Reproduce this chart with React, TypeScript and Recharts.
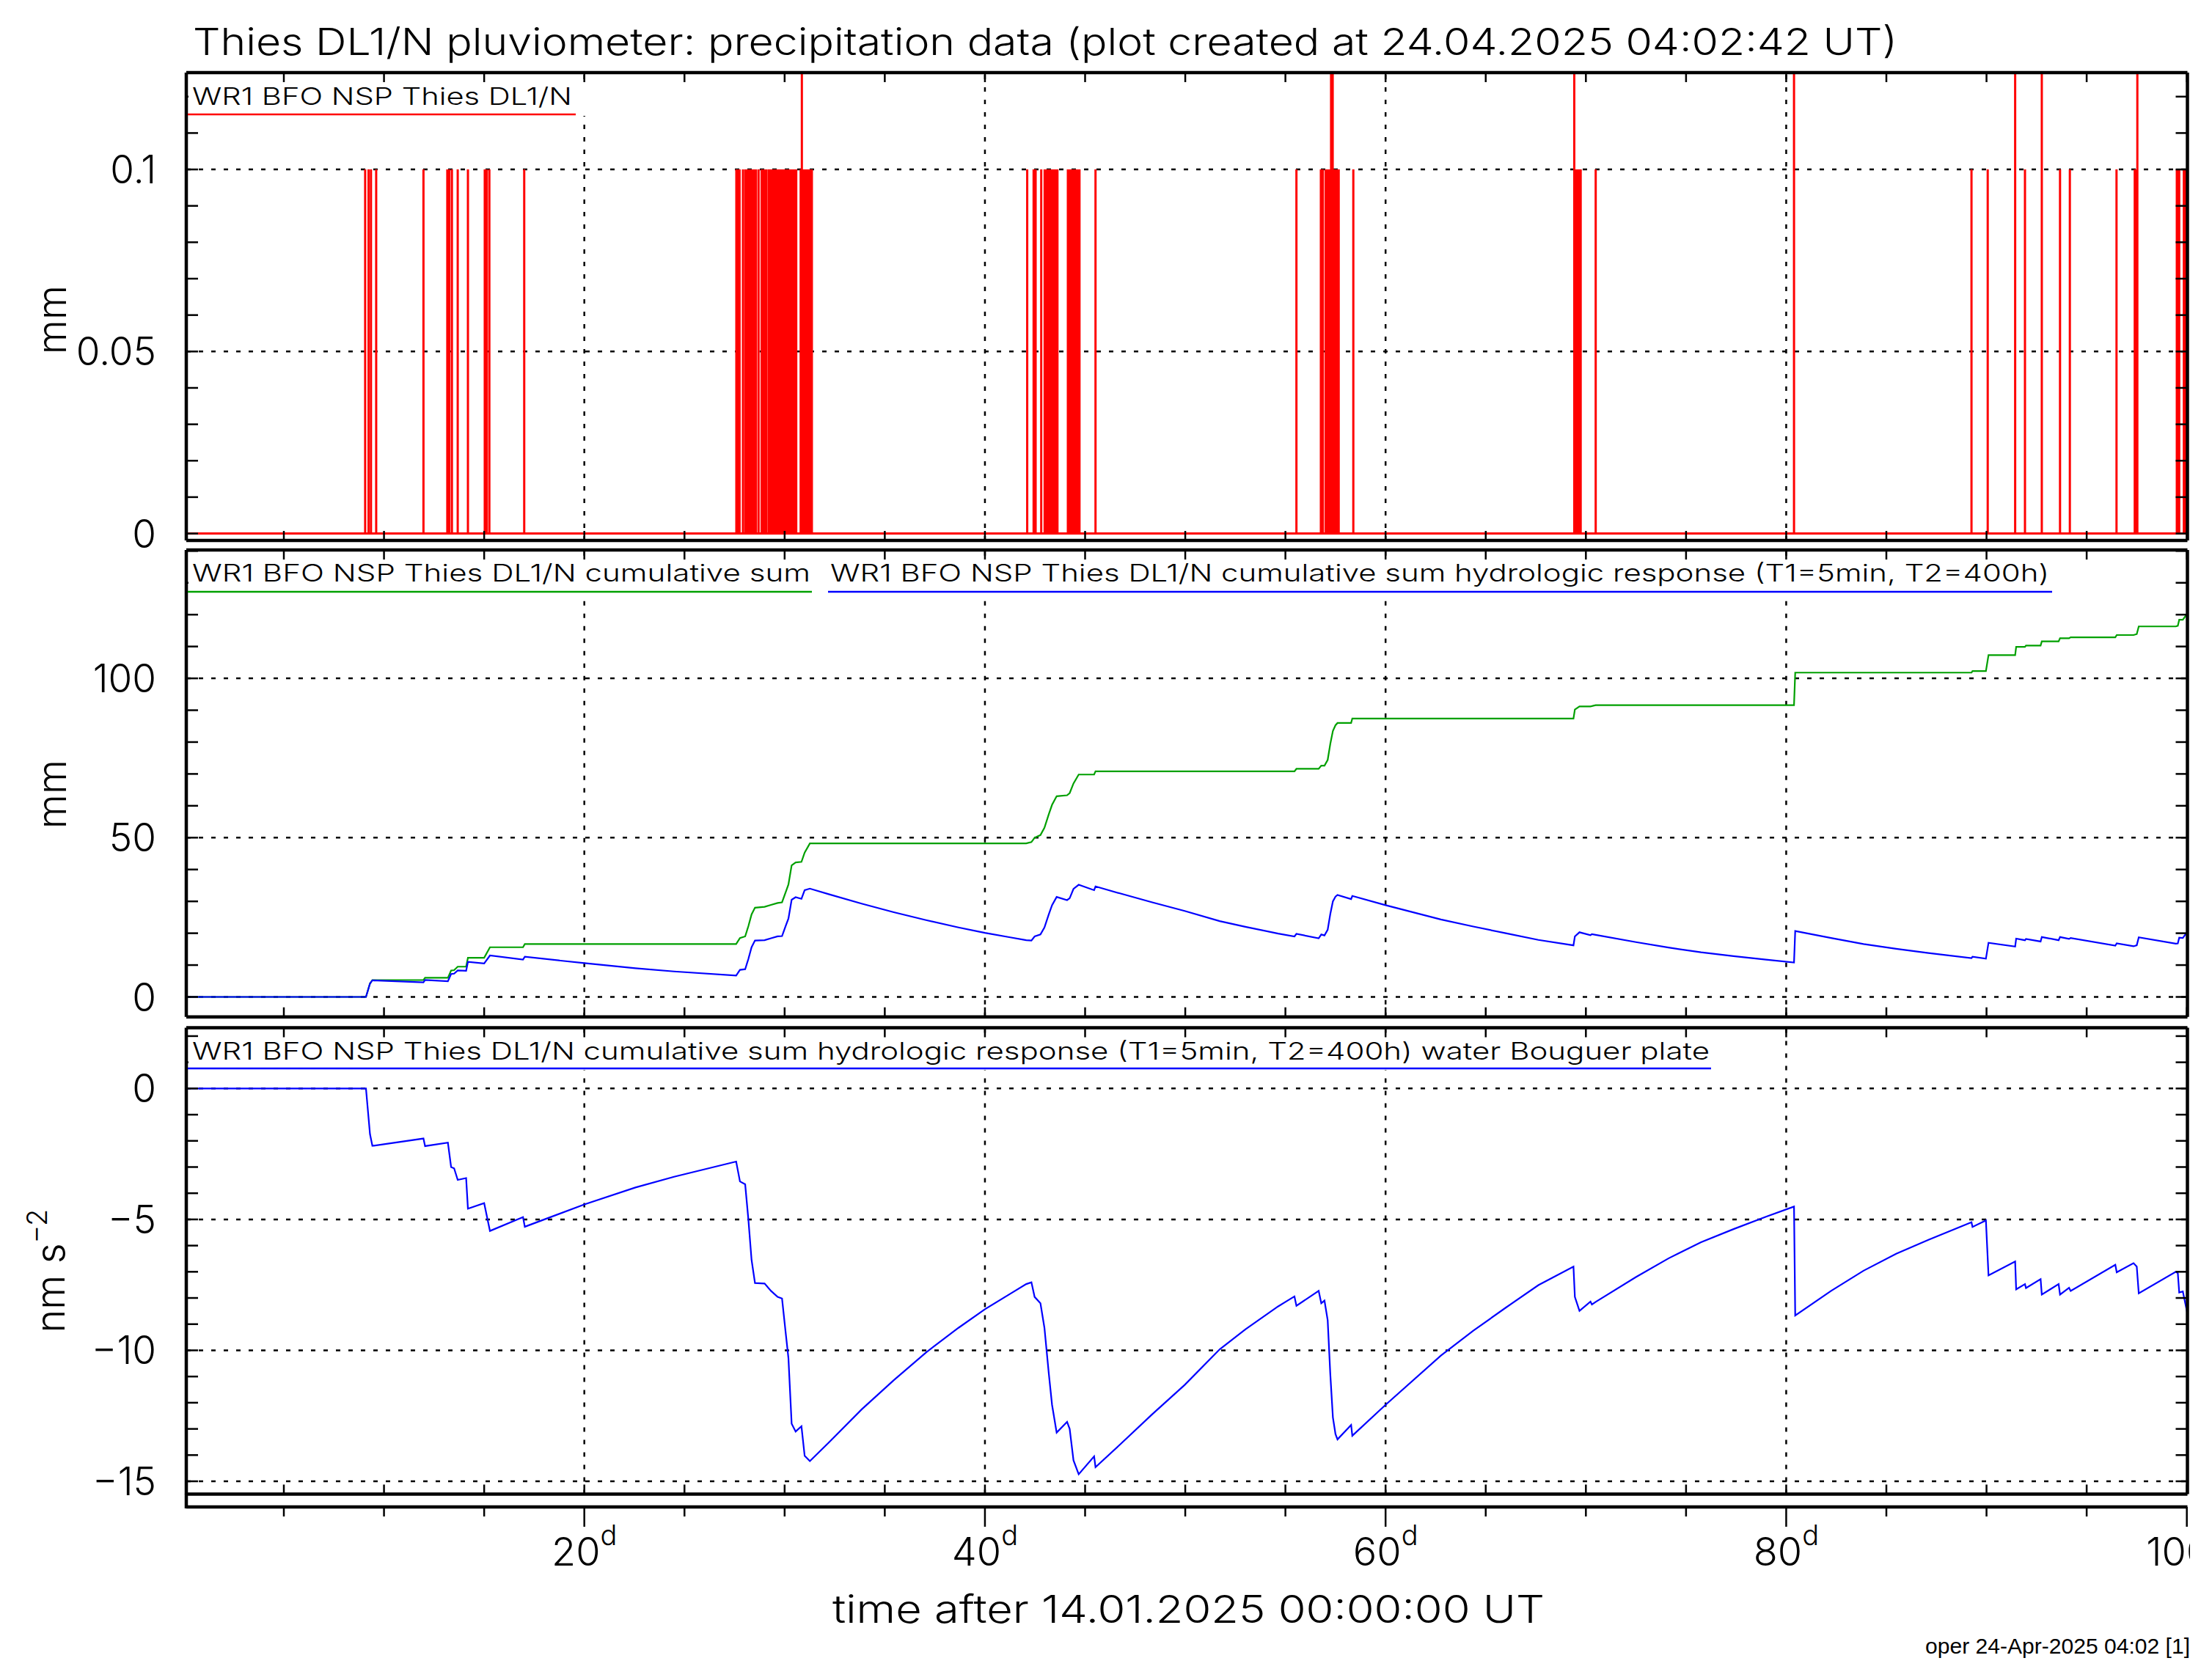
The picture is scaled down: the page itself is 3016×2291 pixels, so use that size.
import React from 'react'
import { LineChart, Line, XAxis, YAxis, ReferenceLine } from 'recharts'

const W = 3016
const H = 2291
const FONT = "Inter, 'DejaVu Sans', sans-serif"
const FW = 300

// rain events, days after 14.01.2025 00:00 UT, mm per interval
const rainDays = [
  9.06, 9.23, 9.35, 9.61, 11.97, 13.16, 13.26, 13.39, 13.68, 14.19,
  15.03, 15.13, 15.26, 17.0,
  27.59, 27.67, 27.75, 27.92, 28.04, 28.12, 28.2, 28.28, 28.36, 28.44,
  28.52, 28.57, 28.7, 28.85, 28.92, 28.98, 29.04, 29.09, 29.21, 29.27,
  29.32, 29.42, 29.52, 29.62, 29.7, 29.78, 29.86, 29.94, 30.02, 30.1,
  30.18, 30.26, 30.34, 30.42, 30.5, 30.58, 30.8, 30.86, 30.92, 31.0,
  31.08, 31.16, 31.24, 31.32, 31.36,
  42.11, 42.43, 42.53, 42.81, 42.98, 43.06, 43.14, 43.22, 43.3, 43.38,
  43.46, 43.54, 43.62, 44.14, 44.22, 44.3, 44.38, 44.46, 44.54, 44.62,
  44.72, 45.52,
  55.55, 56.77, 56.87, 57.01, 57.09, 57.17, 57.28, 57.36, 57.44, 57.52,
  57.6, 57.66, 58.39,
  69.42, 69.5, 69.58, 69.66, 69.74, 70.49, 80.39,
  89.25, 90.06, 91.43, 91.92, 92.76, 93.67, 94.16, 96.49, 97.4, 97.45,
  97.53, 99.5, 99.56, 99.62, 99.85, 99.92,
]
const rainMm = [
  0.1, 0.1, 0.1, 0.1, 0.1, 0.1, 0.1, 0.1, 0.1, 0.1,
  0.1, 0.1, 0.1, 0.1,
  0.1, 0.1, 0.1, 0.1, 0.1, 0.1, 0.1, 0.1, 0.1, 0.1,
  0.1, 0.1, 0.1, 0.1, 0.1, 0.1, 0.1, 0.1, 0.1, 0.1,
  0.1, 0.1, 0.1, 0.1, 0.1, 0.1, 0.1, 0.1, 0.1, 0.1,
  0.1, 0.1, 0.1, 0.1, 0.1, 0.1, 0.1, 0.2, 0.1, 0.1,
  0.1, 0.1, 0.1, 0.1, 0.1,
  0.1, 0.1, 0.1, 0.1, 0.1, 0.1, 0.1, 0.1, 0.1, 0.1,
  0.1, 0.1, 0.1, 0.1, 0.1, 0.1, 0.1, 0.1, 0.1, 0.1,
  0.1, 0.1,
  0.1, 0.1, 0.1, 0.1, 0.1, 0.1, 0.2, 0.2, 0.1, 0.1,
  0.1, 0.1, 0.1,
  0.2, 0.1, 0.1, 0.1, 0.1, 0.1, 0.2,
  0.1, 0.1, 0.2, 0.1, 0.2, 0.1, 0.1, 0.1, 0.1, 0.1,
  0.2, 0.1, 0.1, 0.1, 0.1, 0.1,
]

// cumulative sum, hydrologic response and its Bouguer plate effect
const hydroDays = [
  0.13, 9.1, 9.3, 9.42, 11.97, 12.05, 13.19, 13.35, 13.5, 13.68,
  14.1, 14.19, 15.0, 15.29, 16.94, 17.03, 20.0, 22.55, 24.48, 27.58,
  27.77, 28.03, 28.19, 28.35, 28.52, 29.0, 29.32, 29.65, 29.87, 30.06,
  30.19, 30.35, 30.55, 30.84, 31.0, 31.26, 32.23, 33.84, 35.45, 37.06,
  38.68, 40.0, 41.26, 42.06, 42.32, 42.48, 42.77, 42.97, 43.19, 43.35,
  43.58, 44.1, 44.23, 44.42, 44.68, 45.45, 45.52, 46.74, 48.35, 49.97,
  51.72, 53.0, 54.64, 55.45, 55.55, 56.66, 56.79, 56.95, 57.11, 57.24,
  57.37, 57.5, 57.6, 58.28, 58.34, 60.0, 62.76, 64.38, 66.0, 67.63,
  69.38, 69.45, 69.68, 70.23, 70.3, 70.49, 72.5, 74.12, 75.75, 77.37,
  78.99, 80.39, 80.45, 82.24, 83.86, 85.49, 87.1, 89.25, 89.3, 89.97,
  90.1, 91.43, 91.48, 91.92, 91.97, 92.7, 92.76, 93.6, 93.67, 94.12,
  94.2, 96.43, 96.5, 97.34, 97.5, 97.6, 99.45, 99.55, 99.62, 99.8,
  100.03,
]
const cumMm = [
  0, 0, 4.2, 5.3, 5.3, 6.0, 6.0, 8.3, 8.4, 9.5,
  9.5, 12.3, 12.3, 15.6, 15.6, 16.6, 16.6, 16.6, 16.6, 16.6,
  18.5, 19.0, 22.2, 25.9, 28.0, 28.3, 28.9, 29.5, 29.7, 33.0,
  35.3, 41.3, 42.2, 42.4, 45.3, 48.2, 48.2, 48.2, 48.2, 48.2,
  48.2, 48.2, 48.2, 48.2, 48.6, 50.0, 50.8, 53.1, 57.4, 60.3,
  63.0, 63.3, 64.0, 67.0, 69.8, 69.8, 70.8, 70.8, 70.8, 70.8,
  70.8, 70.8, 70.8, 70.8, 71.6, 71.6, 72.6, 72.6, 74.4, 79.4,
  83.5, 85.3, 86.0, 86.0, 87.4, 87.4, 87.4, 87.4, 87.4, 87.4,
  87.4, 90.2, 91.2, 91.2, 91.3, 91.6, 91.6, 91.6, 91.6, 91.6,
  91.6, 91.6, 101.8, 101.8, 101.8, 101.8, 101.8, 101.8, 102.3, 102.3,
  107.3, 107.3, 109.9, 109.9, 110.3, 110.3, 111.6, 111.6, 112.6, 112.6,
  112.9, 112.9, 113.6, 113.6, 113.9, 116.3, 116.3, 116.5, 118.4, 118.4,
  120.4,
]
const hydroMm = [
  0, 0, 4.2, 5.2, 4.6, 5.3, 4.9, 7.2, 7.3, 8.3,
  8.2, 11.0, 10.5, 13.0, 11.7, 12.6, 10.6, 9.0, 8.0, 6.7,
  8.5, 8.7, 11.9, 15.6, 17.7, 17.8, 18.4, 19.0, 19.1, 22.4,
  24.6, 30.5, 31.3, 30.8, 33.5, 34.0, 32.2, 29.3, 26.6, 24.1,
  21.8, 20.1, 18.7, 17.8, 17.7, 19.0, 19.6, 21.8, 26.0, 28.8,
  31.4, 30.4, 31.0, 33.9, 35.2, 33.5, 34.7, 32.5, 29.7, 27.0,
  23.8, 22.0, 19.9, 19.0, 19.8, 18.4, 19.6, 19.3, 21.1, 26.0,
  30.0, 31.5, 32.0, 30.7, 31.7, 28.8, 24.3, 22.1, 20.0, 17.9,
  16.2, 19.0, 20.3, 19.4, 19.7, 19.5, 17.2, 15.5, 14.0, 12.8,
  11.7, 10.8, 20.7, 18.5, 16.6, 15.1, 13.8, 12.2, 12.6, 12.0,
  17.0, 15.8, 18.3, 17.8, 18.2, 17.4, 18.8, 17.8, 18.8, 18.2,
  18.5, 16.1, 16.8, 15.9, 16.2, 18.7, 16.7, 16.8, 18.6, 18.5,
  20.5,
]
const bouguerNms = [
  0, 0, -1.74, -2.19, -1.91, -2.2, -2.07, -3.0, -3.05, -3.49,
  -3.42, -4.59, -4.38, -5.44, -4.91, -5.28, -4.43, -3.78, -3.37, -2.79,
  -3.55, -3.66, -5.0, -6.55, -7.43, -7.45, -7.73, -7.96, -8.02, -9.38,
  -10.3, -12.8, -13.1, -12.9, -14.03, -14.23, -13.5, -12.26, -11.14, -10.08,
  -9.14, -8.43, -7.84, -7.47, -7.4, -7.96, -8.2, -9.14, -10.9, -12.08,
  -13.14, -12.73, -13.0, -14.2, -14.73, -14.05, -14.46, -13.6, -12.44, -11.32,
  -9.96, -9.2, -8.32, -7.94, -8.3, -7.73, -8.2, -8.1, -8.85, -10.9,
  -12.56, -13.2, -13.4, -12.85, -13.26, -12.08, -10.2, -9.25, -8.37, -7.51,
  -6.8, -7.96, -8.49, -8.14, -8.25, -8.15, -7.2, -6.49, -5.87, -5.37,
  -4.9, -4.51, -8.67, -7.73, -6.96, -6.31, -5.78, -5.11, -5.29, -5.04,
  -7.14, -6.61, -7.67, -7.47, -7.62, -7.28, -7.87, -7.47, -7.87, -7.61,
  -7.73, -6.73, -7.02, -6.67, -6.8, -7.82, -7.0, -7.05, -7.79, -7.75,
  -8.6,
]

const xDomain = [0.13, 100.03]
const xTicks = [5, 10, 15, 20, 25, 30, 35, 40, 45, 50, 55, 60, 65, 70, 75, 80, 85, 90, 95, 100]
const xGrid = [20, 40, 60, 80]

const rainTicks = [0, 0.01, 0.02, 0.03, 0.04, 0.05, 0.06, 0.07, 0.08, 0.09, 0.1, 0.11, 0.12]
const rainLabels = [0, 0.05, 0.1]
const sumTicks = [0, 10, 20, 30, 40, 50, 60, 70, 80, 90, 100, 110, 120, 130, 140]
const sumLabels = [0, 50, 100]
const gravTicks = [-15, -14, -13, -12, -11, -10, -9, -8, -7, -6, -5, -4, -3, -2, -1, 0, 1, 2]
const gravLabels = [-15, -10, -5, 0]

const rainData: { d: number; v: number }[] = [{ d: xDomain[0], v: 0 }]
rainDays.forEach((d, i) => {
  rainData.push({ d, v: 0 }, { d, v: rainMm[i] }, { d, v: 0 })
})
rainData.push({ d: xDomain[1], v: 0 })

const hydroData = hydroDays.map((d, i) => ({
  d,
  cum: cumMm[i],
  hydro: hydroMm[i],
  boug: bouguerNms[i],
}))

const FRAME = { stroke: '#000', strokeWidth: 4.5 }
const TICK_W = 2.5
const GRID = { stroke: '#000', strokeWidth: 2.5, strokeDasharray: '6 11' }
const CLIP_RIGHT = 2986

const fmtNum = (v: number) => (v < 0 ? '\u2212' + Math.abs(v) : String(v))
const near = (list: number[], v: number) => list.some((l) => Math.abs(l - v) < 1e-9)

const xTickIn = (dir: number) => (p: any) => (
  <line x1={p.x} x2={p.x} y1={p.y} y2={p.y + dir * 13} stroke="#000" strokeWidth={TICK_W} />
)

const yTickLeft = (labels: number[]) => (p: any) => {
  const v = p.payload.value
  return (
    <g>
      <line x1={p.x} x2={p.x + 16} y1={p.y} y2={p.y} stroke="#000" strokeWidth={TICK_W} />
      {near(labels, v) && (
        <text x={p.x - 41} y={p.y + 19} textAnchor="end" fontSize={53} fontFamily={FONT} fontWeight={FW} fill="#000">
          {fmtNum(v)}
        </text>
      )}
    </g>
  )
}

const yTickRight = (p: any) => (
  <line x1={p.x} x2={p.x - 16} y1={p.y} y2={p.y} stroke="#000" strokeWidth={TICK_W} />
)

// the plotting device clips the last label at the frame edge
const scaleTick = (p: any) => {
  const v = p.payload.value
  const major = v % 20 === 0
  const clipId = 'xlab' + v
  return (
    <g>
      <line x1={p.x} x2={p.x} y1={p.y} y2={p.y + (major ? 27 : 13)} stroke="#000" strokeWidth={TICK_W} />
      {major && (
        <g>
          <defs>
            <clipPath id={clipId} clipPathUnits="userSpaceOnUse">
              <rect x={0} y={0} width={CLIP_RIGHT} height={H} />
            </clipPath>
          </defs>
          <text
            x={p.x}
            y={p.y + 80}
            textAnchor="middle"
            fontSize={54}
            fontFamily={FONT}
            fontWeight={FW}
            fill="#000"
            clipPath={`url(#${clipId})`}
          >
            {v}
            <tspan dy={-28} fontSize={38}>d</tspan>
          </text>
        </g>
      )}
    </g>
  )
}

function panelAxes(yDomain: number[], yTicks: number[], yLabels: number[], bottomHeight: number) {
  return [
    <XAxis
      key="b"
      xAxisId="b"
      dataKey="d"
      type="number"
      domain={xDomain}
      ticks={xTicks}
      interval={0}
      allowDataOverflow
      height={bottomHeight}
      tickSize={0}
      tickMargin={0}
      tickLine={false}
      axisLine={FRAME}
      tick={xTickIn(-1)}
    />,
    <XAxis
      key="t"
      xAxisId="t"
      orientation="top"
      dataKey="d"
      type="number"
      domain={xDomain}
      ticks={xTicks}
      interval={0}
      allowDataOverflow
      height={1}
      tickSize={0}
      tickMargin={0}
      tickLine={false}
      axisLine={FRAME}
      tick={xTickIn(1)}
    />,
    <YAxis
      key="l"
      yAxisId="l"
      type="number"
      domain={yDomain}
      ticks={yTicks}
      interval={0}
      allowDataOverflow
      width={100}
      tickSize={0}
      tickMargin={0}
      tickLine={false}
      axisLine={FRAME}
      tick={yTickLeft(yLabels)}
    />,
    <YAxis
      key="r"
      yAxisId="r"
      orientation="right"
      type="number"
      domain={yDomain}
      ticks={yTicks}
      interval={0}
      allowDataOverflow
      width={1}
      tickSize={0}
      tickMargin={0}
      tickLine={false}
      axisLine={FRAME}
      tick={yTickRight}
    />,
    ...xGrid.map((x) => <ReferenceLine key={'gx' + x} x={x} xAxisId="b" yAxisId="l" {...GRID} />),
    ...yLabels.map((y) => <ReferenceLine key={'gy' + y} y={y} xAxisId="b" yAxisId="l" {...GRID} />),
  ]
}

const layer: React.CSSProperties = { position: 'absolute', left: 0, top: 0 }

export default function App() {
  return (
    <div style={{ position: 'absolute', left: 0, top: 0, width: W, height: H, background: '#fff', overflow: 'hidden' }}>
      <div style={layer}>
        <LineChart width={W} height={H} data={rainData} margin={{ top: 98, right: 32.5, bottom: 1553, left: 154 }}>
          {panelAxes([-0.0019, 0.1266], rainTicks, rainLabels, 1)}
          <Line
            xAxisId="b"
            yAxisId="l"
            dataKey="v"
            type="linear"
            stroke="#ff0000"
            strokeWidth={3}
            dot={false}
            isAnimationActive={false}
          />
        </LineChart>
      </div>
      <div style={layer}>
        <LineChart width={W} height={H} data={hydroData} margin={{ top: 749, right: 32.5, bottom: 903.3, left: 154 }}>
          {panelAxes([-6.26, 140.3], sumTicks, sumLabels, 1)}
          <Line xAxisId="b" yAxisId="l" dataKey="cum" type="linear" stroke="#00a000" strokeWidth={2.2} dot={false} isAnimationActive={false} />
          <Line xAxisId="b" yAxisId="l" dataKey="hydro" type="linear" stroke="#0000ff" strokeWidth={2.2} dot={false} isAnimationActive={false} />
        </LineChart>
      </div>
      <div style={layer}>
        <LineChart width={W} height={H} data={hydroData} margin={{ top: 1400.5, right: 32.5, bottom: 36, left: 154 }}>
          {panelAxes([-15.49, 2.32], gravTicks, gravLabels, 17.5)}
          <XAxis
            xAxisId="s"
            dataKey="d"
            type="number"
            domain={xDomain}
            ticks={xTicks}
            interval={0}
            allowDataOverflow
            height={200}
            tickSize={0}
            tickMargin={0}
            tickLine={false}
            axisLine={FRAME}
            tick={scaleTick}
          />
          <Line xAxisId="b" yAxisId="l" dataKey="boug" type="linear" stroke="#0000ff" strokeWidth={2.2} dot={false} isAnimationActive={false} />
        </LineChart>
      </div>
      <svg style={{ ...layer, pointerEvents: 'none' }} width={W} height={H} fontFamily={FONT} fontWeight={FW}>
        <text x={263} y={75} fontSize={51} textLength={2324} lengthAdjust="spacingAndGlyphs">
          Thies DL1/N pluviometer: precipitation data (plot created at 24.04.2025 04:02:42 UT)
        </text>

        <rect x={257} y={114} width={545} height={44} fill="#fff" />
        <text x={262} y={143} fontSize={33} textLength={518} lengthAdjust="spacingAndGlyphs">
          WR1 BFO NSP Thies DL1/N
        </text>
        <line x1={256} x2={785} y1={156} y2={156} stroke="#ff0000" strokeWidth={2.5} />

        <rect x={257} y={765} width={2548} height={44} fill="#fff" />
        <text x={262} y={793} fontSize={33} textLength={843} lengthAdjust="spacingAndGlyphs">
          WR1 BFO NSP Thies DL1/N cumulative sum
        </text>
        <line x1={256} x2={1107} y1={807} y2={807} stroke="#00a000" strokeWidth={2.5} />
        <text x={1132} y={793} fontSize={33} textLength={1662} lengthAdjust="spacingAndGlyphs">
          WR1 BFO NSP Thies DL1/N cumulative sum hydrologic response (T1=5min, T2=400h)
        </text>
        <line x1={1129} x2={2798} y1={807} y2={807} stroke="#0000ff" strokeWidth={2.5} />

        <rect x={257} y={1417} width={2082} height={42} fill="#fff" />
        <text x={262} y={1445} fontSize={33} textLength={2069} lengthAdjust="spacingAndGlyphs">
          WR1 BFO NSP Thies DL1/N cumulative sum hydrologic response (T1=5min, T2=400h) water Bouguer plate
        </text>
        <line x1={256} x2={2333} y1={1457} y2={1457} stroke="#0000ff" strokeWidth={2.5} />

        {/* short frame piece joining the lower panel to the time axis */}
        <line x1={254} x2={254} y1={2037} y2={2057} stroke="#000" strokeWidth={4.5} />

        <text transform="translate(90 436) rotate(-90)" textAnchor="middle" fontSize={54}>mm</text>
        <text transform="translate(90 1083) rotate(-90)" textAnchor="middle" fontSize={54}>mm</text>
        <text transform="translate(88 1733) rotate(-90)" textAnchor="middle" fontSize={54}>
          nm s<tspan dy={-24} fontSize={38}>{'\u22122'}</tspan>
        </text>

        <text x={1135} y={2213} fontSize={52} textLength={971} lengthAdjust="spacingAndGlyphs">
          time after 14.01.2025 00:00:00 UT
        </text>
        <text x={2625} y={2255} fontSize={30} fontWeight={400} fontFamily="'Liberation Sans Narrow', 'Liberation Sans', sans-serif" textLength={361} lengthAdjust="spacingAndGlyphs">
          oper 24-Apr-2025 04:02 [1]
        </text>
      </svg>
    </div>
  )
}
